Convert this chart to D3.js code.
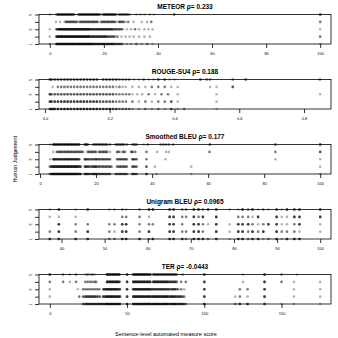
<!DOCTYPE html>
<html><head><meta charset="utf-8">
<script src="https://cdn.jsdelivr.net/npm/d3@7"></script>
<style>body{margin:0;background:#fff}svg{display:block}text{font-family:"Liberation Sans",Arial,sans-serif;fill:#000}</style>
</head><body><svg id="c" width="338" height="338"></svg>
<script>
const metrics = ["METEOR","ROUGE-SU4","Smoothed BLEU","Unigram BLEU","TER"];
const rhoLabels = ["0.233","0.188","0.177","0.0965","-0.0443"];
const xTickValues = [[0,20,40,60,80,100],[0,0.2,0.4,0.6,0.8],[0,20,40,60,80,100],[40,50,60,70,80,90,100],[0,50,100,150]];
const xTickFormats = ["d",".1f","d","d","d"];
const judgementTicks = [1,2,3,4,5];
const judgementLabels = [1,3,5];
const yAxisTitle = "Human Judgement";
const xAxisTitle = "Sentence-level automated measure score";

// [score, number of sentences] per human judgement (1..5)
const meteorJ1 = [[0,1],[2.5,4],[3,4],[3.5,4],[4,4],[4.5,4],[5,4],[5.5,4],[6,4],[6.5,4],[7,4],[7.5,4],[8,4],[8.5,4],[9,4],[9.5,3],[10,4],[10.5,4],[11,4],[11.5,4],[12,4],[12.5,4],[13,4],[13.5,4],[14,4],[14.5,4],[15,4],[15.5,4],[16,3],[16.5,3],[17,3],[17.5,3],[18,3],[18.5,3],[19,3],[19.5,3],[20,3],[20.5,3],[21,3],[21.5,3],[22,3],[22.5,3],[23,3],[23.5,3],[24,2],[24.5,2],[25,2],[25.5,2],[26,2],[26.5,2],[27,1],[28.5,1],[30,1],[32,2],[34,1],[36,2],[38,1],[100,1]];
const meteorJ2 = [[0,1],[2.5,4],[3,4],[3.5,4],[4,4],[4.5,4],[5,4],[5.5,4],[6,4],[6.5,4],[7,4],[7.5,4],[8,4],[8.5,4],[9,4],[9.5,4],[10,4],[10.5,4],[11,4],[11.5,4],[12,4],[12.5,4],[13,4],[13.5,4],[14,4],[14.5,4],[15,3],[15.5,3],[16,3],[16.5,3],[17,3],[17.5,3],[18,3],[18.5,3],[19,3],[19.5,3],[20,3],[20.5,3],[21,3],[21.5,2],[22,2],[22.5,2],[23,2],[23.5,2],[24,2],[25,2],[26.5,1],[28,1],[29.5,1],[31,1],[33,1],[35,1],[37,1],[100,2]];
const meteorJ3 = [[0,1],[2.5,3],[3,3],[3.5,4],[4,4],[4.5,4],[5,4],[5.5,4],[6,4],[6.5,4],[7,4],[7.5,4],[8,4],[8.5,4],[9,4],[9.5,4],[10,4],[10.5,4],[11,4],[11.5,4],[12,4],[12.5,4],[13,4],[13.5,4],[14,4],[14.5,4],[15,3],[15.5,3],[16,3],[16.5,3],[17,3],[17.5,3],[18,3],[18.5,3],[19,3],[19.5,3],[20,3],[20.5,3],[21,3],[21.5,3],[22,3],[22.5,3],[23,3],[23.5,2],[24,2],[24.5,2],[25,2],[25.5,2],[26,2],[26.5,2],[27,1],[28.5,1],[30,1],[31.5,2],[33,1],[35,1],[36.5,1],[38,1],[100,1]];
const meteorJ4 = [[2.3,1],[3.8,1],[5.5,1],[6,2],[6.5,2],[7,2],[7.5,2],[8,2],[8.5,2],[9,2],[9.5,2],[10,2],[11,2],[11.5,2],[12,2],[12.5,2],[13,2],[13.5,2],[14,2],[14.5,2],[15,2],[15.5,2],[16,2],[16.5,2],[17,2],[17.5,2],[18,1],[19,2],[19.5,2],[20,2],[20.5,2],[21,2],[21.5,2],[22,2],[22.5,2],[23,2],[23.5,2],[24,2],[24.5,1],[25.5,2],[26,2],[26.5,2],[27,2],[27.5,1],[28,1],[29,2],[31,1],[34,1],[36,1],[37.5,2],[100,2]];
const meteorJ5 = [[0,1],[2.5,2],[3,3],[3.5,3],[4,3],[4.5,3],[5,3],[5.5,3],[6,3],[6.5,3],[7,3],[7.5,3],[8,3],[8.5,3],[9,2],[10.5,2],[11,3],[11.5,3],[12,3],[12.5,3],[13,3],[13.5,3],[14,3],[14.5,3],[15,3],[15.5,3],[16,3],[16.5,3],[17,3],[17.5,3],[18,3],[18.5,2],[19.5,2],[20,3],[20.5,3],[21,3],[21.5,3],[22,3],[22.5,3],[23,3],[23.5,3],[24,3],[24.5,2],[25.5,2],[26,2],[26.5,2],[27,2],[27.5,2],[28,2],[28.5,2],[29,2],[29.5,1],[32,1],[33.5,1],[35,1],[37,1],[38.5,1],[46,3],[100,4]];

const rougeJ1 = [[0.015,3],[0.02,4],[0.025,3],[0.03,4],[0.04,4],[0.05,4],[0.06,4],[0.07,4],[0.08,4],[0.09,4],[0.1,4],[0.11,4],[0.12,4],[0.13,4],[0.14,4],[0.15,4],[0.16,4],[0.17,3],[0.18,3],[0.19,3],[0.2,4],[0.21,3],[0.22,3],[0.23,2],[0.24,2],[0.25,2],[0.26,2],[0.27,1],[0.29,1],[0.31,2],[0.33,1],[0.35,2],[0.37,1],[0.39,3],[0.41,1],[0.43,2],[0.53,1]];
const rougeJ2 = [[0.015,3],[0.02,4],[0.03,4],[0.04,4],[0.05,4],[0.06,4],[0.07,4],[0.08,4],[0.09,4],[0.1,4],[0.11,4],[0.12,4],[0.13,4],[0.14,4],[0.15,4],[0.16,4],[0.17,3],[0.18,3],[0.19,3],[0.2,3],[0.21,3],[0.22,2],[0.23,2],[0.24,2],[0.25,2],[0.27,2],[0.29,1],[0.31,2],[0.33,1],[0.35,2],[0.37,2],[0.39,3],[0.41,1],[0.53,1]];
const rougeJ3 = [[0.015,3],[0.02,3],[0.03,3],[0.04,3],[0.05,3],[0.06,3],[0.07,3],[0.08,3],[0.09,3],[0.1,3],[0.11,3],[0.12,3],[0.13,3],[0.14,3],[0.15,3],[0.16,3],[0.17,3],[0.18,3],[0.19,3],[0.2,3],[0.21,3],[0.22,2],[0.23,2],[0.24,2],[0.25,2],[0.26,2],[0.27,1],[0.285,1],[0.3,1],[0.32,2],[0.34,1],[0.36,2],[0.38,2],[0.41,1],[0.53,1],[0.85,1]];
const rougeJ4 = [[0.024,1],[0.04,2],[0.05,2],[0.06,2],[0.07,2],[0.08,2],[0.09,2],[0.1,2],[0.11,2],[0.12,2],[0.13,2],[0.14,2],[0.15,2],[0.16,2],[0.17,2],[0.18,2],[0.19,2],[0.2,2],[0.21,2],[0.22,1],[0.23,2],[0.24,1],[0.25,1],[0.27,1],[0.29,1],[0.31,1],[0.33,2],[0.35,2],[0.37,2],[0.39,1],[0.41,1],[0.51,1],[0.53,1],[0.58,3]];
const rougeJ5 = [[0.015,3],[0.02,3],[0.03,3],[0.04,3],[0.05,3],[0.06,3],[0.07,3],[0.08,3],[0.09,3],[0.1,3],[0.11,3],[0.12,3],[0.13,3],[0.14,3],[0.15,3],[0.16,3],[0.18,3],[0.19,3],[0.2,3],[0.21,3],[0.22,3],[0.23,2],[0.24,2],[0.25,2],[0.26,2],[0.275,1],[0.29,1],[0.305,2],[0.32,1],[0.335,1],[0.35,3],[0.37,3],[0.385,1],[0.4,1],[0.48,3],[0.5,2],[0.51,2],[0.58,2],[0.62,3],[0.849,2]];

const sbleuJ1 = [[3.5,2],[4,3],[4.5,4],[5,4],[5.5,4],[6,4],[6.5,4],[7,4],[7.5,4],[8,4],[8.5,4],[9,4],[9.5,4],[10,4],[10.5,4],[11,4],[11.5,4],[12,4],[12.5,4],[13,4],[13.5,4],[14,3],[14.5,3],[16,3],[16.5,3],[17,3],[17.5,2],[18,2],[18.5,2],[19,3],[19.5,3],[20,3],[20.5,2],[21,2],[21.5,2],[22,2],[22.5,2],[23,2],[23.5,2],[24,2],[24.5,2],[25,2],[27,2],[27.5,2],[28,2],[28.5,2],[29,2],[29.5,2],[30,2],[30.5,2],[31,2],[33,3],[33.5,2],[34,2],[34.5,2],[38,4],[41.6,1],[54,1],[100,1]];
const sbleuJ2 = [[3.5,2],[4,3],[4.5,4],[5,4],[5.5,4],[6,4],[6.5,4],[7,4],[7.5,4],[8,4],[8.5,4],[9,4],[9.5,4],[10,4],[10.5,4],[11,4],[11.5,4],[12,4],[12.5,4],[13,4],[13.5,4],[14,3],[14.5,3],[16,3],[16.5,3],[17,3],[17.5,2],[18,2],[18.5,2],[19,3],[19.5,3],[20,3],[20.5,2],[21,2],[21.5,2],[22,2],[22.5,2],[23,2],[23.5,2],[24,2],[24.5,2],[25,2],[25.5,2],[27.5,2],[28,2],[28.5,2],[29,2],[29.5,2],[30,2],[30.5,2],[31,2],[33,3],[33.5,2],[34,2],[34.5,2],[38,3],[41,1],[54,1],[100,1]];
const sbleuJ3 = [[3.6,1],[4.7,2],[5,3],[5.5,3],[6,3],[6.5,3],[7,3],[7.5,3],[8,3],[8.5,3],[9,3],[9.5,3],[10,3],[10.5,3],[11,3],[11.5,3],[12,3],[12.5,3],[13,3],[13.5,3],[14,3],[16,3],[16.5,3],[17,2],[17.5,2],[18,2],[18.5,2],[19,2],[19.5,2],[20,3],[20.5,2],[21,2],[21.5,2],[22,2],[22.5,2],[23,2],[23.5,2],[24,2],[24.5,2],[25,2],[27.5,2],[28,2],[28.5,2],[29,2],[29.5,2],[30,2],[30.5,2],[31,2],[33,3],[33.5,2],[34,2],[34.5,2],[38,2],[44.8,1],[84,1],[100,1]];
const sbleuJ4 = [[4.7,1],[6,2],[6.5,2],[7,2],[7.5,2],[8,2],[8.5,2],[9,2],[9.5,2],[10,2],[10.5,2],[11,2],[11.5,2],[12,2],[12.5,2],[13,2],[13.5,2],[14,2],[14.5,2],[15,2],[15.5,1],[17,2],[17.5,2],[18,2],[18.5,2],[19,2],[19.5,2],[20,2],[21,2],[21.5,2],[22,2],[22.5,2],[23,2],[23.5,2],[24,2],[25,1],[27.5,2],[28,2],[28.5,1],[29.5,2],[30,2],[30.5,1],[32.5,2],[33,3],[34,2],[38,2],[41.8,1],[45,1],[46,1],[60.5,2],[84,2],[100,3]];
const sbleuJ5 = [[3.6,1],[4.7,2],[5,3],[5.5,3],[6,3],[6.5,3],[7,3],[7.5,3],[8,3],[8.5,3],[9,3],[9.5,3],[10,3],[10.5,3],[11,3],[11.5,3],[12,3],[12.5,3],[13,3],[13.5,3],[14,3],[16,3],[16.5,3],[17,3],[19,2],[19.5,2],[20,2],[20.5,2],[21,2],[21.5,2],[22,2],[22.5,2],[23,2],[23.5,2],[24,2],[25,2],[27,2],[27.5,2],[28,2],[28.5,2],[29,2],[29.5,2],[30,2],[31,2],[33,2],[33.5,2],[34,2],[34.5,2],[37,1],[38.4,2],[43,2],[44,2],[45,2],[46,2],[47.5,2],[60.6,3],[84,3],[100,4]];

const unigramJ1 = [[37.3,4],[39.4,4],[43.3,4],[46.1,4],[51.1,2],[52.3,2],[54.1,4],[55,4],[58.1,4],[60.3,2],[61.2,4],[65.1,4],[66,4],[68,4],[68.9,2],[70.7,4],[71.8,4],[72.8,4],[74,2],[75.9,4],[79,1],[81,4],[82,4],[83.3,2],[84.3,4],[85.6,4],[86.8,1],[88,2],[89.9,4],[91.1,1],[92.3,4],[94,4],[95.2,4]];
const unigramJ2 = [[37.3,2],[39.4,4],[43.3,2],[46.1,4],[51.1,2],[52.3,1],[54.1,4],[55,4],[58.1,2],[60.3,4],[65.1,4],[66,4],[68,2],[68.9,2],[70.7,4],[71.8,4],[72.8,2],[75.9,4],[79,1],[81,4],[82,4],[83.3,2],[84.3,4],[85.6,2],[86.8,4],[89.9,4],[91.1,2],[92.3,2],[94,2],[95.2,1],[100,1]];
const unigramJ3 = [[39.4,4],[43.3,2],[46.1,2],[51.1,2],[52.3,2],[54.1,4],[55,4],[58.1,2],[60.3,2],[61.2,2],[65.1,4],[66,4],[68,2],[70.7,4],[71.8,4],[72.8,2],[74,1],[75.9,4],[79,1],[81,4],[82,4],[83.3,4],[84.3,2],[85.6,1],[86.8,2],[88,4],[89.9,4],[91.1,1],[92.3,1],[94,2],[95.2,4],[100,1]];
const unigramJ4 = [[37.3,1],[39.4,1],[43.3,1],[54.1,2],[55,2],[58.1,2],[60.3,1],[65.1,4],[66,4],[68,2],[68.9,2],[70.7,4],[71.8,2],[72.8,4],[75.9,4],[81,2],[82,2],[83.3,2],[84.3,1],[85.6,4],[89.9,4],[91.1,1],[92.3,1],[94,4],[95.2,4],[100,4]];
const unigramJ5 = [[37.3,1],[39.4,4],[43.3,1],[46.1,4],[51.1,1],[52.3,1],[54.1,2],[55,1],[58.1,2],[60.3,4],[61.2,4],[65.1,4],[66,4],[68,2],[68.9,2],[70.7,4],[71.8,4],[72.8,2],[74,4],[75.9,4],[79,1],[81,1],[82,4],[83.3,2],[84.3,4],[85.6,1],[86.8,2],[88,1],[89.9,4],[91.1,1],[92.3,4],[94,4],[95.2,4],[100,4]];

const terJ1 = [[21.5,2],[22.5,2],[23.5,3],[24.5,3],[25.5,3],[26.5,3],[27.5,3],[28.5,3],[29.5,3],[30.5,3],[31.5,3],[32.5,3],[33.5,3],[34.5,3],[35.5,3],[36.5,4],[37.5,4],[38.5,4],[39.5,4],[40.5,4],[41.5,4],[42.5,4],[43.5,4],[44.5,4],[45.5,3],[50,4],[54,4],[55,4],[56,4],[57,4],[58,4],[59,4],[60,4],[61,4],[62,4],[63,4],[64,4],[65,4],[66,3],[67,4],[68,4],[69,4],[70,4],[71,4],[72,3],[73,4],[74,4],[75,4],[76,4],[77,3],[78,3],[79,4],[80,4],[81,4],[82,3],[83,3],[84,3],[85,3],[86,3],[87,2],[88,2],[100,4],[120,2],[123,4],[128,4],[139,4],[150,1],[158,1],[175,1]];
const terJ2 = [[0,1],[19,2],[21.5,2],[22.5,2],[23.5,3],[24.5,3],[25.5,3],[26.5,3],[27.5,3],[28.5,3],[29.5,3],[30.5,2],[31.5,2],[32.5,2],[34.5,3],[35.5,3],[36.5,4],[37.5,4],[38.5,4],[39.5,4],[40.5,4],[41.5,4],[42.5,4],[43.5,4],[44.5,4],[45.5,3],[50,4],[54,4],[55,4],[56,4],[57,4],[58,4],[59,4],[60,4],[61,4],[62,4],[63,4],[64,4],[65,4],[66,3],[67,4],[68,4],[69,4],[70,4],[71,4],[72,3],[73,4],[74,4],[75,4],[76,4],[77,3],[78,3],[79,4],[80,4],[81,3],[82,3],[83,3],[84,3],[85,3],[86,2],[87,2],[100,4],[120,1],[123,2],[128,1],[139,4],[158,1],[175,1]];
const terJ3 = [[0,1],[18.2,1],[21.5,2],[23,2],[24.5,2],[26,2],[27.5,2],[29,2],[30.5,2],[32,2],[34.7,3],[35.5,3],[36.5,4],[37.5,4],[38.5,4],[39.5,4],[40.5,4],[41.5,4],[42.5,4],[43.5,4],[44.5,3],[45.4,3],[50,4],[54,4],[55,4],[56,4],[57,4],[58,4],[59,4],[60,4],[61,4],[62,4],[63,4],[64,4],[65,4],[66,3],[67,3],[68,3],[69,3],[70,3],[71,3],[72,3],[73,3],[74,3],[75,3],[76,3],[77,3],[78,2],[79,3],[80,3],[81,3],[82,2],[83,2],[85,2],[87,1],[100,4],[123,2],[128,2],[139,4],[158,1],[175,1]];
const terJ4 = [[0,2],[8.6,2],[13,1],[17,2],[23,2],[24.5,2],[26,2],[27.5,2],[29,2],[30,2],[37,4],[38,4],[39,4],[40,4],[41,4],[42,4],[43,4],[44,4],[45,4],[50,4],[54,4],[55,4],[56,4],[57,4],[58,4],[59,4],[60,4],[61,4],[62,4],[63,4],[64,4],[65,4],[67,4],[68,4],[69,4],[70,4],[71,4],[72,4],[73,4],[74,4],[75,4],[76,4],[77,3],[78,3],[79,3],[80,3],[81,3],[82,3],[85,2],[88,2],[100,4],[125,1],[139,4],[150,2],[158,1],[175,1]];
const terJ5 = [[0,4],[8.6,2],[13,1],[17,2],[23,1],[24.5,2],[26,1],[27.5,2],[29,1],[37,4],[38,4],[39,4],[40,4],[41,4],[42,4],[43,4],[44,4],[45,4],[50,4],[54,4],[55,4],[56,4],[57,4],[58,4],[59,4],[60,4],[61,4],[62,4],[63,4],[64,4],[65,4],[67,3],[68,3],[69,3],[70,3],[71,3],[72,3],[73,3],[74,3],[75,3],[76,3],[77,3],[78,3],[79,3],[80,3],[81,3],[82,3],[86,2],[100,4],[125,1],[139,4],[150,2],[160,1]];

const panelRows = [
  [meteorJ1, meteorJ2, meteorJ3, meteorJ4, meteorJ5],
  [rougeJ1, rougeJ2, rougeJ3, rougeJ4, rougeJ5],
  [sbleuJ1, sbleuJ2, sbleuJ3, sbleuJ4, sbleuJ5],
  [unigramJ1, unigramJ2, unigramJ3, unigramJ4, unigramJ5],
  [terJ1, terJ2, terJ3, terJ4, terJ5]
];

const svg = d3.select("#c");
const left = 39, right = 331, top0 = 14.5, plotH = 29.5, step = 65;
const dotR = 1.3, dotAlpha = 0.3;

metrics.forEach((name, i) => {
  const rows = panelRows[i];
  const pts = [];
  rows.forEach((row, j) => row.forEach(([v, n]) => { for (let k = 0; k < n; k++) pts.push({x: v, y: judgementTicks[j]}); }));
  const ext = d3.extent(pts, d => d.x);
  const pad = (ext[1] - ext[0]) * 0.04;
  const x = d3.scaleLinear().domain([ext[0] - pad, ext[1] + pad]).range([left, right]);
  const yT = top0 + step * i;
  const y = d3.scaleLinear().domain([1, 5]).range([yT + plotH, yT]);
  const g = svg.append("g");

  g.append("g").selectAll("circle").data(pts).join("circle")
    .attr("cx", d => x(d.x)).attr("cy", d => y(d.y)).attr("r", dotR)
    .attr("fill", "#000").attr("fill-opacity", dotAlpha);

  g.append("rect").attr("x", left).attr("y", yT).attr("width", right - left).attr("height", plotH)
    .attr("fill", "none").attr("stroke", "#000").attr("stroke-width", 0.8);

  const xa = g.append("g").attr("transform", `translate(0,${yT + plotH})`)
    .call(d3.axisBottom(x).tickValues(xTickValues[i]).tickFormat(d3.format(xTickFormats[i])).tickSize(4).tickPadding(4.5));
  xa.select(".domain").remove();
  xa.selectAll("line").attr("stroke-width", 0.8);
  xa.selectAll("text").attr("font-size", 4).attr("font-family", "Liberation Sans, Arial, sans-serif");

  const ya = g.append("g").attr("transform", `translate(${left},0)`)
    .call(d3.axisLeft(y).tickValues(judgementTicks).tickFormat(d => judgementLabels.includes(d) ? d : "").tickSize(4).tickPadding(3));
  ya.select(".domain").remove();
  ya.selectAll("line").attr("stroke-width", 0.8);
  ya.selectAll("text").attr("font-size", 4).attr("font-family", "Liberation Sans, Arial, sans-serif")
    .attr("text-anchor", "middle").attr("transform", "rotate(-90,-8,0)")
    .attr("x", -8).attr("dy", "0.35em");

  svg.append("text").attr("x", (left + right) / 2).attr("y", yT - 5.8)
    .attr("text-anchor", "middle").attr("font-size", 6.5).attr("font-weight", "bold")
    .text(name + " \u03C1= " + rhoLabels[i]);

  if (i === 2) {
    svg.append("text").attr("transform", `translate(17,${yT + plotH / 2}) rotate(-90)`)
      .attr("text-anchor", "middle").attr("font-size", 5.5).text(yAxisTitle);
  }
});

svg.append("text").attr("x", 166).attr("y", 335.5).attr("text-anchor", "middle")
  .attr("font-size", 5.5).text(xAxisTitle);
</script></body></html>
